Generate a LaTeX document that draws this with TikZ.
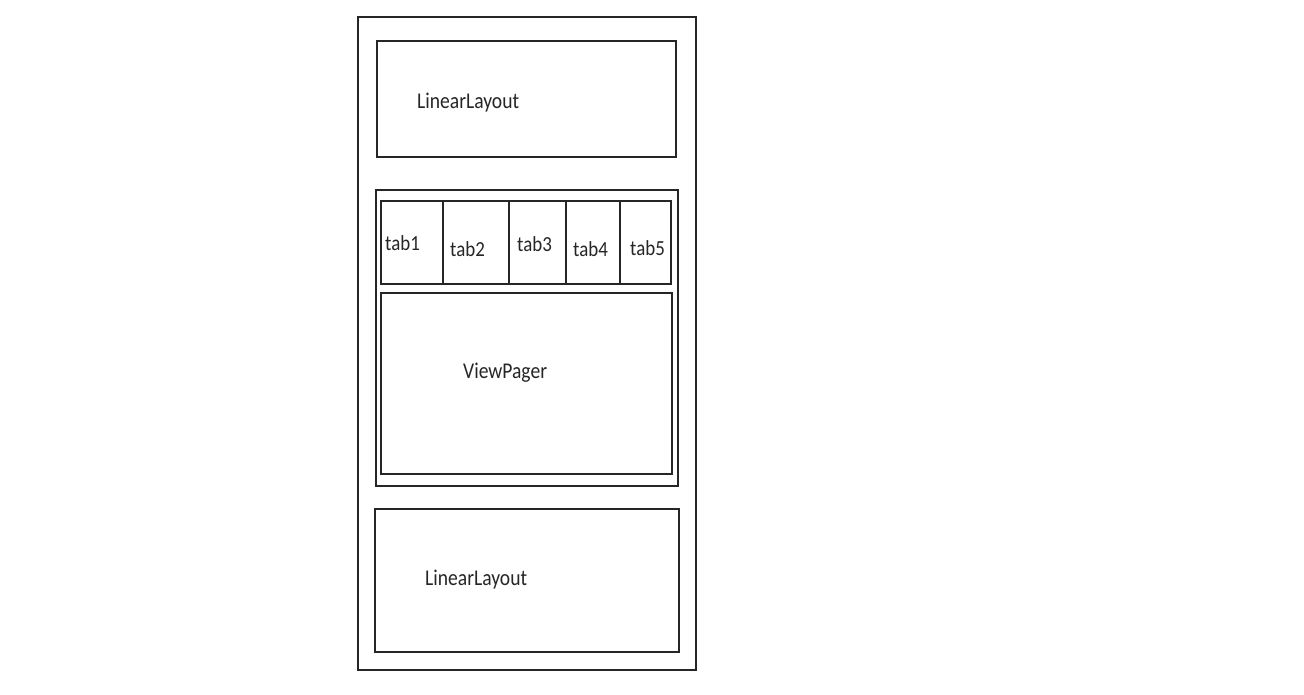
\documentclass[tikz,border=0pt]{standalone}
\usepackage{fontspec}
\setmainfont{Carlito}
\begin{document}
\begin{tikzpicture}[x=1pt,y=-1pt,
  box/.style={draw=black!85,line width=1.3pt,inner sep=0pt},
  lbl/.style={anchor=west,inner sep=0pt,xscale=0.87,font=\fontsize{22.5}{24}\selectfont,text=black!85},
  tablbl/.style={anchor=west,inner sep=0pt,xscale=0.88,font=\fontsize{21.5}{23}\selectfont,text=black!85}]
\useasboundingbox[fill=white] (0,0) rectangle (1304,694);
\newcommand{\bx}[5]{\node[box,minimum width=#4-#2,minimum height=#5-#3] (#1) at ({(#2+#4)/2},{(#3+#5)/2}) {};}
\bx{outer}{358}{17}{696}{670}
\bx{topll}{377}{41}{676}{157}
\bx{mid}{376}{190}{678}{486}
\bx{tabs}{381}{201}{671}{284}
\bx{vp}{381}{293}{672}{474}
\bx{botll}{375}{509}{679}{652}
\foreach \x in {443,509,566,620}
  \draw[black!85,line width=1.1pt] (\x,201) -- (\x,285);
\node[lbl] (t1) at (417,103) {LinearLayout};
\node[lbl] (t2) at (463,373) {ViewPager};
\node[lbl] (t3) at (425,580) {LinearLayout};
\node[tablbl] (a1) at (385,243) {tab1};
\node[tablbl] (a2) at (450,249) {tab2};
\node[tablbl] (a3) at (517,244) {tab3};
\node[tablbl] (a4) at (573,249) {tab4};
\node[tablbl] (a5) at (630,248) {tab5};
\end{tikzpicture}
\end{document}
